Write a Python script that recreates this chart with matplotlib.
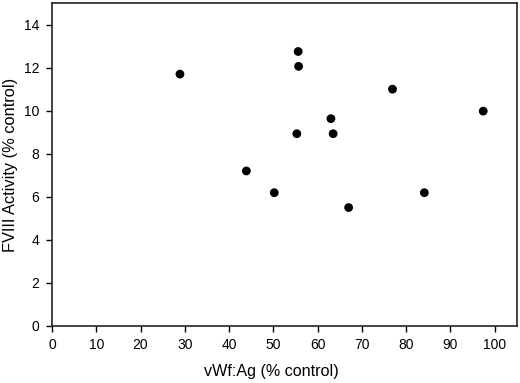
import numpy as np
import matplotlib.pyplot as plt

plt.rcParams['font.family'] = ['Liberation Sans', 'DejaVu Sans']

# vWf:Ag vs FVIII activity (both % control)
vwf_ag = [28.9, 55.6, 55.7, 76.9, 97.4, 63.0, 55.3, 63.5, 43.9, 50.2, 84.1, 67.0]
fviii = [11.7, 12.75, 12.06, 11.0, 9.98, 9.63, 8.93, 8.93, 7.2, 6.19, 6.19, 5.5]
x_ticks = list(range(0, 101, 10))
y_ticks = list(range(0, 15, 2))

fig = plt.figure(figsize=(5.2, 3.83), dpi=100)
ax = fig.add_axes([0.1, 0.149, 0.894, 0.843])

ax.scatter(vwf_ag, fviii, s=40, color='black', edgecolors='none', zorder=3)

ax.set_xlim(0, 105)
ax.set_ylim(0, 15)
ax.set_xticks(x_ticks)
ax.set_yticks(y_ticks)
ax.tick_params(direction='out', length=4, width=1, labelsize=10, pad=5)
for sp in ax.spines.values():
    sp.set_linewidth(1.2)
    sp.set_color('#222222')

ax.set_xlabel('vWf:Ag (% control)', fontsize=11.6)
ax.set_ylabel('FVIII Activity (% control)', fontsize=11.8)
# label is a bit left of the axes centre in the original
ax.xaxis.set_label_coords(0.471, -0.118)
ax.yaxis.set_label_coords(-0.074, 0.5)

fig.savefig('out.png', dpi=100)
